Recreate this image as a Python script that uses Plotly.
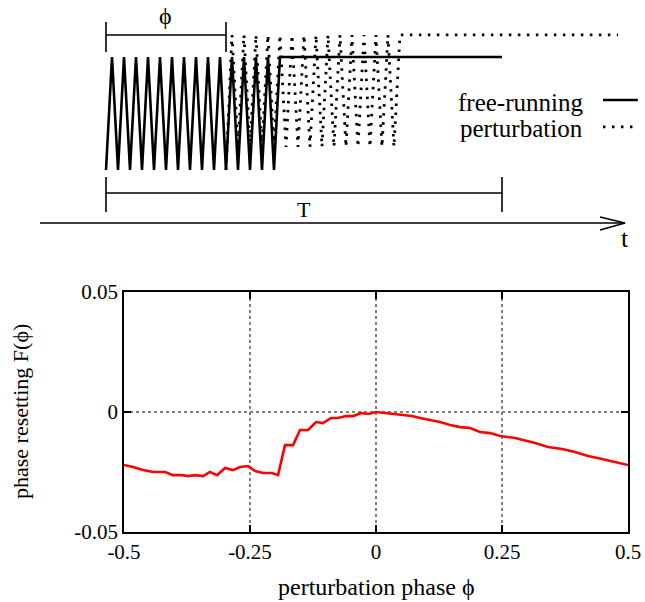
import plotly.graph_objects as go

# ---------------- bottom plot data ----------------
phase = [-0.5, -0.4821, -0.4623, -0.4425, -0.4187, -0.4028, -0.3849, -0.373, -0.3591,
         -0.3433, -0.3294, -0.3155, -0.2996, -0.2837, -0.2698, -0.254, -0.2401, -0.2242,
         -0.2063, -0.1944, -0.1806, -0.1647, -0.1508, -0.1349, -0.119, -0.1052, -0.0893,
         -0.0754, -0.0595, -0.0456, -0.0298, -0.0159, 0.0, 0.0179, 0.0337, 0.0516, 0.0714,
         0.0873, 0.1071, 0.127, 0.1468, 0.1667, 0.1865, 0.2063, 0.2262, 0.246, 0.2758,
         0.2956, 0.3155, 0.3413, 0.369, 0.3948, 0.4206, 0.4484, 0.4742, 0.5]
resetting = [-0.0221, -0.0229, -0.0242, -0.025, -0.025, -0.0263, -0.0263, -0.0267, -0.0263,
             -0.0267, -0.025, -0.0263, -0.0233, -0.0242, -0.0229, -0.0225, -0.0246, -0.0254,
             -0.0254, -0.0263, -0.0138, -0.0138, -0.0075, -0.0075, -0.0042, -0.0046, -0.0025,
             -0.0025, -0.0017, -0.0017, -0.0004, -0.0008, 0.0, -0.0004, -0.0008, -0.0013,
             -0.0017, -0.0025, -0.0033, -0.0042, -0.0054, -0.0063, -0.0067, -0.0083, -0.0088,
             -0.01, -0.0108, -0.0117, -0.0129, -0.0146, -0.0154, -0.0167, -0.0183, -0.0196,
             -0.0208, -0.0221]
x_ticks = [-0.5, -0.25, 0, 0.25, 0.5]
x_tick_labels = ["-0.5", "-0.25", "0", "0.25", "0.5"]
y_ticks = [-0.05, 0, 0.05]
y_tick_labels = ["-0.05", "0", "0.05"]

# ---------------- schematic parameters (time in units of T) ----------------
T_len = 1.0
phi_t = 0.303
half_period = 0.01515
free_half_steps = 29          # free-running: bottom -> ... -> top
pert_half_steps = 29          # perturbed: from phi to top
free_low, free_high = 0.0, 1.0
pert_low, pert_high = 0.204, 1.195
pert_end_t = 1.293
axis_t = [-0.1667, 1.3106]

SERIF = "Liberation Serif, Times New Roman, serif"
PHI = "ϕ"

free_x = [k * half_period for k in range(free_half_steps + 1)]
free_y = [free_low if k % 2 == 0 else free_high for k in range(free_half_steps + 1)]
free_x.append(T_len)
free_y.append(free_high)

pert_x = [phi_t + k * half_period for k in range(pert_half_steps + 1)]
pert_y = [free_low] + [pert_high if k % 2 == 1 else pert_low for k in range(1, pert_half_steps + 1)]
pert_x.append(pert_end_t)
pert_y.append(pert_high)

fig = go.Figure()

fig.add_trace(go.Scatter(x=phase, y=resetting, mode="lines",
                         line=dict(color="#ff0000", width=2.6), showlegend=False,
                         xaxis="x", yaxis="y"))

blk = "#000000"
DOT = "2.5px,6.5px"
fig.add_trace(go.Scatter(x=free_x, y=free_y, mode="lines",
                         line=dict(color=blk, width=2.6), showlegend=False,
                         xaxis="x2", yaxis="y2"))
fig.add_trace(go.Scatter(x=pert_x, y=pert_y, mode="lines",
                         line=dict(color=blk, width=2.8, dash=DOT), showlegend=False,
                         xaxis="x2", yaxis="y2"))

def seg(xs, ys, w=1.6, dash=None):
    fig.add_trace(go.Scatter(x=xs, y=ys, mode="lines",
                             line=dict(color=blk, width=w, dash=dash),
                             showlegend=False, hoverinfo="skip",
                             xaxis="x2", yaxis="y2"))

br_phi_y = 1.195
seg([0, phi_t], [br_phi_y, br_phi_y])
seg([0, 0], [1.044, 1.31])
seg([phi_t, phi_t], [1.044, 1.31])
br_T_y = -0.2035
seg([0, T_len], [br_T_y, br_T_y])
seg([0, 0], [-0.062, -0.372])
seg([T_len, T_len], [-0.062, -0.372])
ax_y = -0.469
seg(axis_t, [ax_y, ax_y])
seg([1.2475, axis_t[1], 1.2475], [-0.416, ax_y, -0.531])
seg([1.255, 1.343], [0.619, 0.619], w=2.6)
seg([1.255, 1.343], [0.381, 0.381], w=2.8, dash=DOT)

annots = [
    dict(x=phi_t / 2, y=1.36, text=PHI, font=dict(size=24)),
    dict(x=T_len / 2, y=-0.35, text="T", font=dict(size=22)),
    dict(x=axis_t[1], y=-0.61, text="t", font=dict(size=26)),
    dict(x=1.2096, y=0.60, text="free-running", xanchor="right", font=dict(size=25)),
    dict(x=1.2096, y=0.37, text="perturbation", xanchor="right", font=dict(size=25)),
]
for a in annots:
    a.setdefault("xanchor", "center")
    a["font"]["family"] = SERIF
    a["font"]["color"] = blk
    fig.add_annotation(xref="x2", yref="y2", showarrow=False, yanchor="middle", **a)

W, H = 645, 602
fig.add_annotation(xref="paper", yref="paper", x=376 / W, y=1 - 587 / H,
                   text="perturbation phase " + PHI, showarrow=False,
                   xanchor="center", yanchor="middle",
                   font=dict(family=SERIF, size=24, color=blk))
fig.add_annotation(xref="paper", yref="paper", x=20 / W, y=1 - 412 / H,
                   text="phase resetting F(" + PHI + ")", showarrow=False, textangle=-90,
                   xanchor="center", yanchor="middle",
                   font=dict(family=SERIF, size=22, color=blk))

axis_common = dict(showline=True, linecolor=blk, linewidth=1.8, mirror="ticks",
                   ticks="inside", ticklen=7, tickwidth=1.5, tickcolor=blk,
                   showgrid=True, gridcolor="#808080", gridwidth=1.5, griddash="dot",
                   zeroline=False, tickfont=dict(size=21, family=SERIF, color=blk),
                   automargin=False)

fig.update_layout(
    width=W, height=H, margin=dict(l=0, r=0, t=0, b=0, pad=0, autoexpand=False),
    paper_bgcolor="white", plot_bgcolor="rgba(0,0,0,0)",
    font=dict(family=SERIF, size=21, color=blk),
    xaxis=dict(domain=[124 / W, 628 / W], range=[-0.5, 0.5],
               tickvals=x_ticks, ticktext=x_tick_labels, **axis_common),
    yaxis=dict(domain=[70 / H, 310 / H], range=[-0.05, 0.05],
               tickvals=y_ticks, ticktext=y_tick_labels, **axis_common),
    xaxis2=dict(domain=[0, 1], range=[-106 / 396, 539 / 396], visible=False,
                anchor="y2", fixedrange=True, automargin=False),
    yaxis2=dict(domain=[0, 1], range=[(170 - 602) / 113, 170 / 113], visible=False,
                anchor="x2", fixedrange=True, automargin=False),
)

fig.write_html("out.html")
